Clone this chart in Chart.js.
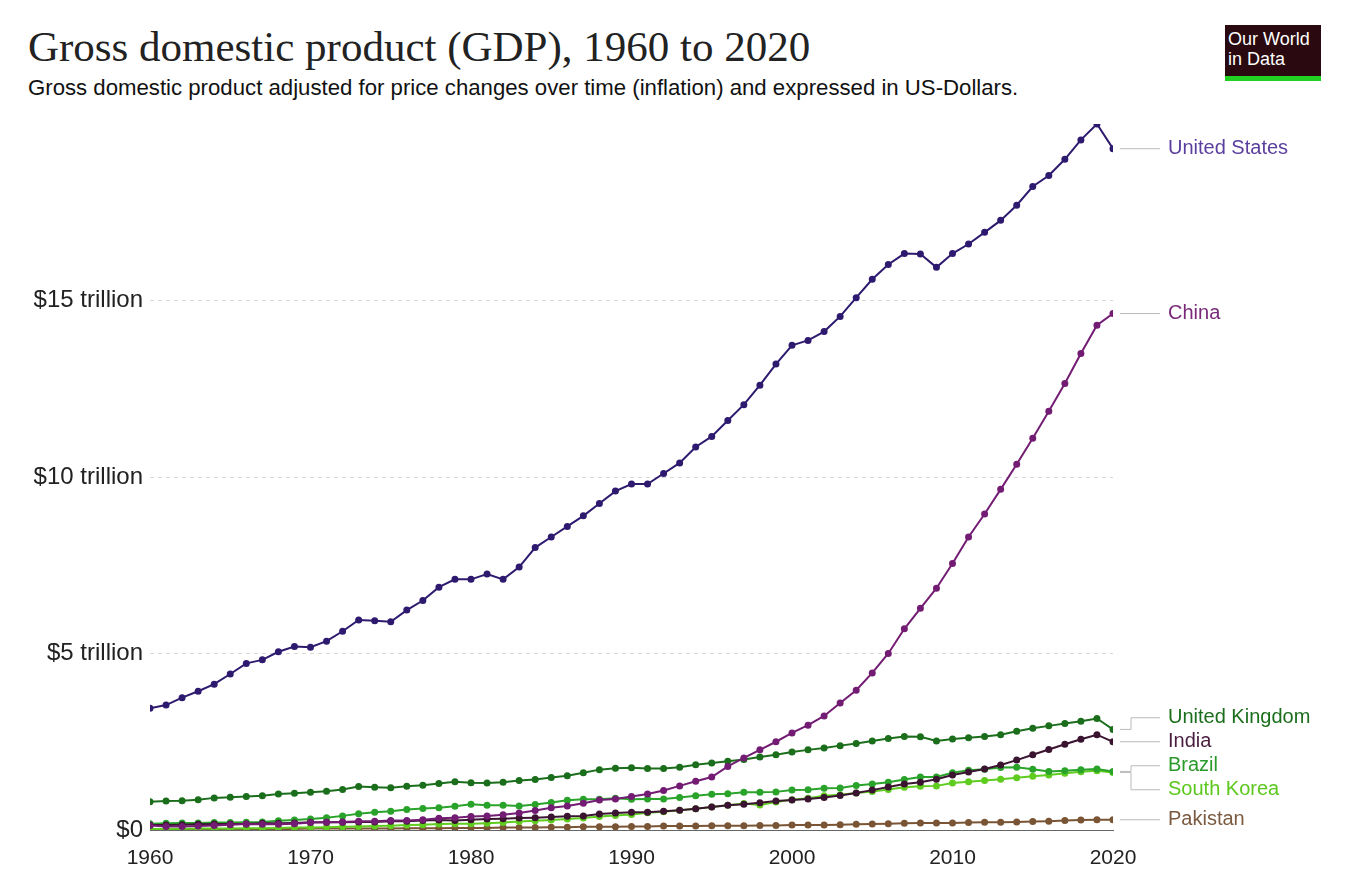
<!DOCTYPE html>
<html><head><meta charset="utf-8">
<script src="https://cdn.jsdelivr.net/npm/chart.js@4"></script>
<style>
body{margin:0;background:#fff;width:1346px;height:895px;overflow:hidden;position:relative;font-family:"Liberation Sans",Arial,sans-serif}
#t{position:absolute;left:28px;top:22px;font-family:"Liberation Serif",serif;font-size:43px;color:#222}
#s{position:absolute;left:28px;top:75px;font-size:22.2px;color:#111}
#logo{position:absolute;left:1225px;top:25px;width:96px;height:56px;background:#2a0a10;border-bottom:5px solid #22d022;box-sizing:border-box;color:#fff;font-size:18px;line-height:20px;padding:4px 0 0 3px}
#c{position:absolute;left:0;top:0}
</style></head><body>
<div id="t">Gross domestic product (GDP), 1960 to 2020</div>
<div id="s">Gross domestic product adjusted for price changes over time (inflation) and expressed in US-Dollars.</div>
<div id="logo">Our World<br>in Data</div>
<canvas id="c" width="1346" height="895"></canvas>
<script>
const years = Array.from({length:61},(_,i)=>1960+i);
const seriesNames = ["United States","China","United Kingdom","India","Brazil","South Korea","Pakistan"];
const unitedStates = [3.45,3.54,3.75,3.93,4.13,4.42,4.72,4.82,5.05,5.2,5.18,5.35,5.63,5.95,5.93,5.9,6.23,6.5,6.88,7.1,7.1,7.25,7.1,7.45,8.0,8.3,8.6,8.9,9.25,9.6,9.8,9.8,10.1,10.4,10.85,11.15,11.6,12.05,12.6,13.2,13.73,13.87,14.12,14.55,15.08,15.6,16.02,16.33,16.32,15.94,16.33,16.6,16.93,17.27,17.7,18.23,18.54,19.0,19.55,20.0,19.3];
const china = [0.13,0.10,0.10,0.11,0.13,0.15,0.17,0.16,0.16,0.18,0.21,0.22,0.23,0.25,0.25,0.27,0.27,0.29,0.33,0.35,0.38,0.40,0.43,0.48,0.55,0.63,0.68,0.76,0.85,0.88,0.95,1.02,1.12,1.25,1.38,1.5,1.8,2.04,2.27,2.5,2.75,2.97,3.23,3.6,3.96,4.45,5.0,5.7,6.28,6.85,7.55,8.3,8.95,9.65,10.36,11.1,11.86,12.65,13.5,14.3,14.63];
const unitedKingdom = [0.80,0.82,0.83,0.86,0.91,0.93,0.95,0.97,1.02,1.04,1.07,1.1,1.15,1.23,1.21,1.2,1.24,1.27,1.32,1.37,1.34,1.33,1.35,1.4,1.43,1.49,1.54,1.62,1.71,1.75,1.76,1.74,1.74,1.78,1.85,1.9,1.95,2.0,2.07,2.13,2.21,2.27,2.32,2.39,2.45,2.52,2.59,2.65,2.64,2.52,2.58,2.61,2.65,2.7,2.8,2.88,2.95,3.02,3.08,3.16,2.85];
const india = [0.14,0.14,0.15,0.16,0.17,0.17,0.17,0.19,0.19,0.2,0.22,0.22,0.22,0.23,0.23,0.25,0.25,0.27,0.28,0.27,0.29,0.31,0.32,0.34,0.35,0.37,0.39,0.4,0.45,0.48,0.5,0.5,0.53,0.56,0.6,0.65,0.7,0.73,0.77,0.82,0.85,0.88,0.92,0.98,1.05,1.13,1.22,1.3,1.35,1.44,1.56,1.64,1.73,1.84,1.98,2.13,2.28,2.43,2.57,2.7,2.5];
const brazil = [0.18,0.19,0.2,0.2,0.21,0.21,0.22,0.23,0.26,0.28,0.31,0.35,0.4,0.46,0.5,0.53,0.58,0.61,0.63,0.67,0.73,0.7,0.7,0.68,0.72,0.78,0.84,0.87,0.87,0.9,0.87,0.88,0.88,0.92,0.97,1.01,1.03,1.07,1.07,1.08,1.13,1.14,1.18,1.19,1.26,1.3,1.35,1.43,1.5,1.5,1.62,1.69,1.72,1.77,1.78,1.72,1.66,1.68,1.71,1.73,1.66];
const southKorea = [0.03,0.03,0.03,0.04,0.04,0.04,0.05,0.05,0.06,0.07,0.07,0.08,0.09,0.1,0.11,0.12,0.14,0.15,0.17,0.18,0.18,0.19,0.21,0.24,0.26,0.28,0.31,0.34,0.38,0.41,0.44,0.49,0.52,0.56,0.6,0.65,0.7,0.75,0.71,0.79,0.86,0.9,0.97,1.0,1.05,1.09,1.15,1.21,1.24,1.25,1.33,1.37,1.4,1.44,1.48,1.52,1.56,1.61,1.65,1.68,1.63];
const pakistan = [0.02,0.02,0.02,0.02,0.02,0.03,0.03,0.03,0.03,0.03,0.04,0.04,0.04,0.04,0.04,0.04,0.05,0.05,0.05,0.06,0.06,0.06,0.07,0.07,0.07,0.08,0.08,0.09,0.09,0.09,0.1,0.1,0.11,0.11,0.11,0.12,0.12,0.12,0.13,0.13,0.14,0.14,0.14,0.15,0.16,0.17,0.18,0.19,0.2,0.2,0.2,0.21,0.22,0.22,0.23,0.24,0.25,0.27,0.28,0.29,0.29];
const yTicks = [0,5,10,15];
const lineColors = ["#2e1a6e","#731c73","#1b6e1b","#3a1430","#2aa32a","#5fcc1f","#7a5535"];
const labelColors = ["#5a3f9e","#7b2a7b","#1b6e1b","#4a1d3e","#2a9a2a","#5cc81e","#7a5a40"];
const allData = [unitedStates,china,unitedKingdom,india,brazil,southKorea,pakistan];

const endLabels = {
  id:'endLabels',
  afterDatasetsDraw(chart){
    const ctx=chart.ctx, y=chart.scales.y, x=chart.scales.x;
    const x0=x.getPixelForValue(2020);
    let items=allData.map((d,i)=>({i, py:y.getPixelForValue(d[d.length-1]), ly:y.getPixelForValue(d[d.length-1])}));
    items.sort((a,b)=>a.py-b.py);
    const gap=24;
    for(let it=0;it<200;it++){
      for(let k=1;k<items.length;k++){
        const ov=gap-(items[k].ly-items[k-1].ly);
        if(ov>0){items[k-1].ly-=ov/2;items[k].ly+=ov/2;}
      }
    }
    ctx.save();
    ctx.font='20px "Liberation Sans", Arial';
    ctx.textBaseline='middle';
    items.forEach(o=>{
      ctx.strokeStyle='#bbb';ctx.lineWidth=1;
      ctx.beginPath();ctx.moveTo(x0+7,o.py);ctx.lineTo(x0+18,o.py);ctx.lineTo(x0+18,o.ly);ctx.lineTo(x0+47,o.ly);ctx.stroke();
      ctx.fillStyle=labelColors[o.i];
      ctx.fillText(seriesNames[o.i],x0+55,o.ly);
    });
    ctx.restore();
  }
};

new Chart(document.getElementById('c'),{
  type:'line',
  data:{labels:years,datasets:allData.map((d,i)=>({label:seriesNames[i],data:d.map((v,k)=>({x:years[k],y:v})),borderColor:lineColors[i],backgroundColor:lineColors[i],borderWidth:2,pointRadius:2.5,pointHoverRadius:2.5,tension:0}))},
  options:{
    responsive:false,animation:false,
    layout:{padding:{top:124,right:233,left:0,bottom:0}},
    plugins:{legend:{display:false},tooltip:{enabled:false}},
    scales:{
      x:{type:'linear',min:1960,max:2020,
        afterFit(s){s.height=65;},
        grid:{display:false,drawTicks:true},
        border:{color:'#666'},
        ticks:{stepSize:10,color:'#222',font:{size:21,family:'"Liberation Sans", Arial'},padding:8,maxRotation:0,callback:v=>String(v)}},
      y:{min:0,max:20,
        afterFit(s){s.width=150;},
        afterBuildTicks(s){s.ticks=yTicks.map(v=>({value:v}));},
        grid:{color:'#d8d8d8',drawTicks:false},
        border:{display:false,dash:[4,4]},
        ticks:{color:'#222',font:{size:24,family:'"Liberation Sans", Arial'},padding:7,callback:v=>v===0?'$0':'$'+v+' trillion'}}
    }
  },
  plugins:[endLabels]
});
</script>
</body></html>
